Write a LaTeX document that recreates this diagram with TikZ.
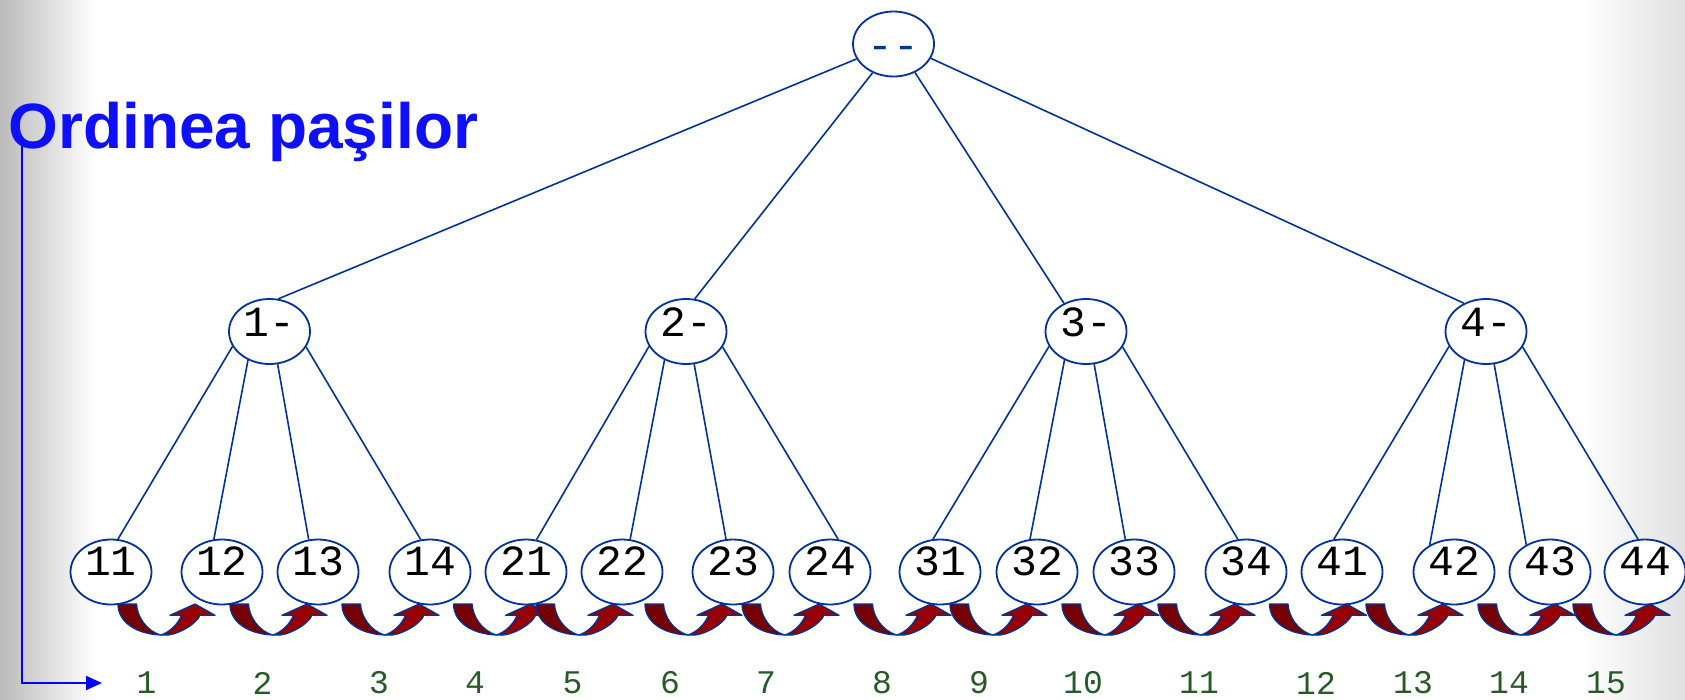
\documentclass[tikz,border=0pt]{standalone}
\usepackage{fontspec}
\setmainfont{Liberation Sans}
\newfontfamily\monof{Liberation Mono}
\usetikzlibrary{arrows.meta,shapes.geometric}
\definecolor{linec}{RGB}{0,51,153}
\definecolor{darkr}{RGB}{118,0,0}
\definecolor{brightr}{RGB}{150,0,0}
\definecolor{numg}{RGB}{40,90,40}
\definecolor{titleb}{RGB}{15,15,255}
\definecolor{axisb}{RGB}{0,0,255}
\tikzset{
  nd/.style={ellipse, draw=linec, line width=1.8pt, fill=white,
    minimum width=81pt, minimum height=65pt, inner sep=0pt,
    font=\monof\fontsize{43}{43}\selectfont, text height=6pt, text depth=0pt},
  edg/.style={draw=linec, line width=1.6pt},
  numlab/.style={font=\monof\fontsize{33}{33}\selectfont, text=numg, inner sep=0pt},
  curvearr/.pic={
    \path[draw=linec, line width=1.3pt, fill=darkr, line join=round]
      (0,0) -- (18.5,0) .. controls (19,12) and (28,27) .. (43,31)
      .. controls (18,30) and (0,18) .. cycle;
    \path[draw=linec, line width=1.3pt, fill=brightr, line join=round]
      (43,31) -- (50,31) .. controls (62,29.5) and (78,20) .. (82,11.3)
      -- (97,11.3) -- (77,0) -- (52,11.3) -- (63.5,11.3)
      .. controls (60,20) and (52,28) .. cycle;
  }
}
\begin{document}
\begin{tikzpicture}[x=1pt,y=-1pt]
\useasboundingbox (0,0) rectangle (1685,699);
% background
\fill[white] (0,0) rectangle (1685,699);
\fill[left color=black!27, right color=white] (0,0) rectangle (95,699);
\fill[left color=white, right color=black!12] (1580,0) rectangle (1685,699);

% axis arrow and title
\coordinate (axtop) at (21.5,140);
\coordinate (axcorner) at (21.5,683);
\coordinate (axend) at (102,683);
\draw[axisb, line width=2pt, -{Triangle[length=16pt,width=14pt]}] (axtop) -- (axcorner) -- (axend);
\node[anchor=base west, font=\bfseries\fontsize{64}{70}\selectfont, text=titleb, inner sep=0pt] (title) at (8.5,148.3) {Ordinea paşilor};

% nodes
\node[nd, text=linec, text height=30pt] (r) at (893.5,44) {-\kern0pt-};
\node[nd, text height=9pt] (a1) at (269.5,331.5) {1-};
\node[nd, text height=9pt] (a2) at (686,331.5) {2-};
\node[nd, text height=9pt] (a3) at (1086,331.5) {3-};
\node[nd, text height=9pt] (a4) at (1486,331.5) {4-};
\foreach \lab/\xx in {11/111,12/222,13/318,14/430,21/526,22/622,23/733,24/830,
                      31/940,32/1037,33/1134,34/1246,41/1342,42/1454,43/1550,44/1645}
  \node[nd] (n\lab) at (\xx,572) {\lab};

% edges root -> level 1
\draw[edg] (r.202) -- (a1.75);
\draw[edg] (r.234) -- (a2.75);
\draw[edg] (r.307) -- (a3.128);
\draw[edg] (r.339) -- (a4.128);

% edges level 1 -> leaves
\draw[edg] (a1.202) -- (n11.78);
\draw[edg] (a1.233) -- (n12.104);
\draw[edg] (a1.284) -- (n13.106);
\draw[edg] (a1.337) -- (n14.106);
\draw[edg] (a2.202) -- (n21.72);
\draw[edg] (a2.233) -- (n22.76);
\draw[edg] (a2.284) -- (n23.102);
\draw[edg] (a2.337) -- (n24.76);
\draw[edg] (a3.202) -- (n31.102);
\draw[edg] (a3.233) -- (n32.102);
\draw[edg] (a3.284) -- (n33.105);
\draw[edg] (a3.337) -- (n34.104);
\draw[edg] (a4.202) -- (n41.104);
\draw[edg] (a4.233) -- (n42.132);
\draw[edg] (a4.284) -- (n43.131);
\draw[edg] (a4.337) -- (n44.102);

% curved step arrows
\foreach \xx in {118,230,342,453.6,536,645,742,854,950,1062,1158,1269.5,1366,1478,1573}
  \pic at (\xx,604) {curvearr};

% step numbers
\foreach \k/\xx in {1/146.5,2/262.5,3/379,4/475,5/572.5,6/670,7/766,8/882,9/979,
                    10/1083,11/1199,12/1316,13/1413,14/1509,15/1606}
  \node[numlab] (s\k) at (\xx,683) {\k};
\end{tikzpicture}
\end{document}
